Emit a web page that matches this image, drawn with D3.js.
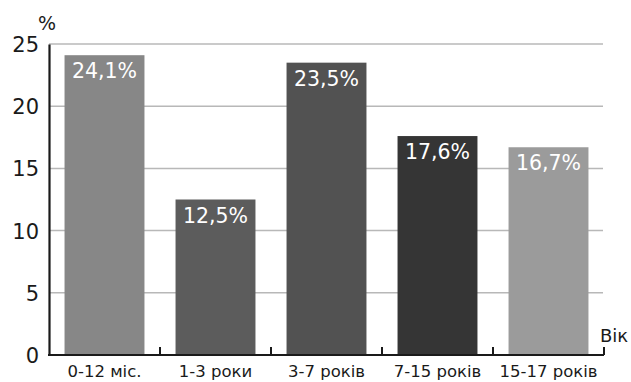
<!DOCTYPE html>
<html><head><meta charset="utf-8">
<script src="https://cdn.jsdelivr.net/npm/d3@7"></script>
<style>body{margin:0;background:#fff}svg{display:block}</style>
</head><body>
<svg id="c" width="631" height="382"></svg>
<script>
const categories = ["0-12 міс.", "1-3 роки", "3-7 років", "7-15 років", "15-17 років"];
const values = [24.1, 12.5, 23.5, 17.6, 16.7];
const valueLabels = ["24,1%", "12,5%", "23,5%", "17,6%", "16,7%"];
const barColors = ["#878787", "#5c5c5c", "#525252", "#353535", "#9b9b9b"];
const yTicks = [0, 5, 10, 15, 20, 25];

const font = "'DejaVu Sans', sans-serif";
const svg = d3.select("#c");
const L = 49, R = 604, T = 44, B = 355;
const x = d3.scaleBand().domain(categories).range([L, R]).paddingInner(0.28).paddingOuter(0.14);
const y = d3.scaleLinear().domain([0, 25]).range([B, T]);

// gridlines
svg.append("g").selectAll("line").data(yTicks.filter(d => d > 0)).join("line")
  .attr("x1", L).attr("x2", R - 1).attr("y1", d => y(d)).attr("y2", d => y(d))
  .attr("stroke", "#b8b8b8").attr("stroke-width", 1.5);

// bars
svg.append("g").selectAll("rect").data(values).join("rect")
  .attr("x", (d, i) => x(categories[i])).attr("width", x.bandwidth())
  .attr("y", d => y(d)).attr("height", d => B - y(d))
  .attr("fill", (d, i) => barColors[i]);

// value labels
svg.append("g").selectAll("text").data(values).join("text")
  .attr("x", (d, i) => x(categories[i]) + x.bandwidth() / 2)
  .attr("y", d => y(d) + 23)
  .attr("text-anchor", "middle").attr("fill", "#fff")
  .attr("font-family", font).attr("font-size", 20.5)
  .text((d, i) => valueLabels[i]);

// y axis
const yAxis = d3.axisLeft(y).tickValues(yTicks).tickSize(0).tickPadding(10);
const gy = svg.append("g").attr("transform", `translate(${L},0)`).call(yAxis);
gy.select(".domain").attr("stroke", "#1a1a1a").attr("stroke-width", 2.2);
gy.selectAll("text").attr("font-family", font).attr("font-size", 21).attr("fill", "#1a1a1a").attr("dy", "0.36em");

// x axis with boundary ticks
const xAxis = d3.axisBottom(x).tickSize(0).tickPadding(10);
const gx = svg.append("g").attr("transform", `translate(0,${B})`).call(xAxis);
gx.select(".domain").remove();
gx.selectAll("text").attr("font-family", font).attr("font-size", 16.5).attr("fill", "#1a1a1a");
svg.append("line").attr("x1", L - 1).attr("x2", R).attr("y1", B).attr("y2", B)
  .attr("stroke", "#1a1a1a").attr("stroke-width", 2.2);
const bounds = categories.map(c => x(c) + x.bandwidth() + x.step() * x.paddingInner() / 2);
bounds[bounds.length - 1] = R;
svg.append("g").selectAll("line").data(bounds).join("line")
  .attr("x1", d => d).attr("x2", d => d).attr("y1", B).attr("y2", B - 8)
  .attr("stroke", "#1a1a1a").attr("stroke-width", 2);

// axis titles
svg.append("text").attr("x", 38).attr("y", 30).attr("font-family", font).attr("font-size", 19).attr("fill", "#1a1a1a").text("%");
svg.append("text").attr("x", 600).attr("y", 342).attr("font-family", font).attr("font-size", 18).attr("fill", "#1a1a1a").text("Вік");
</script>
</body></html>
